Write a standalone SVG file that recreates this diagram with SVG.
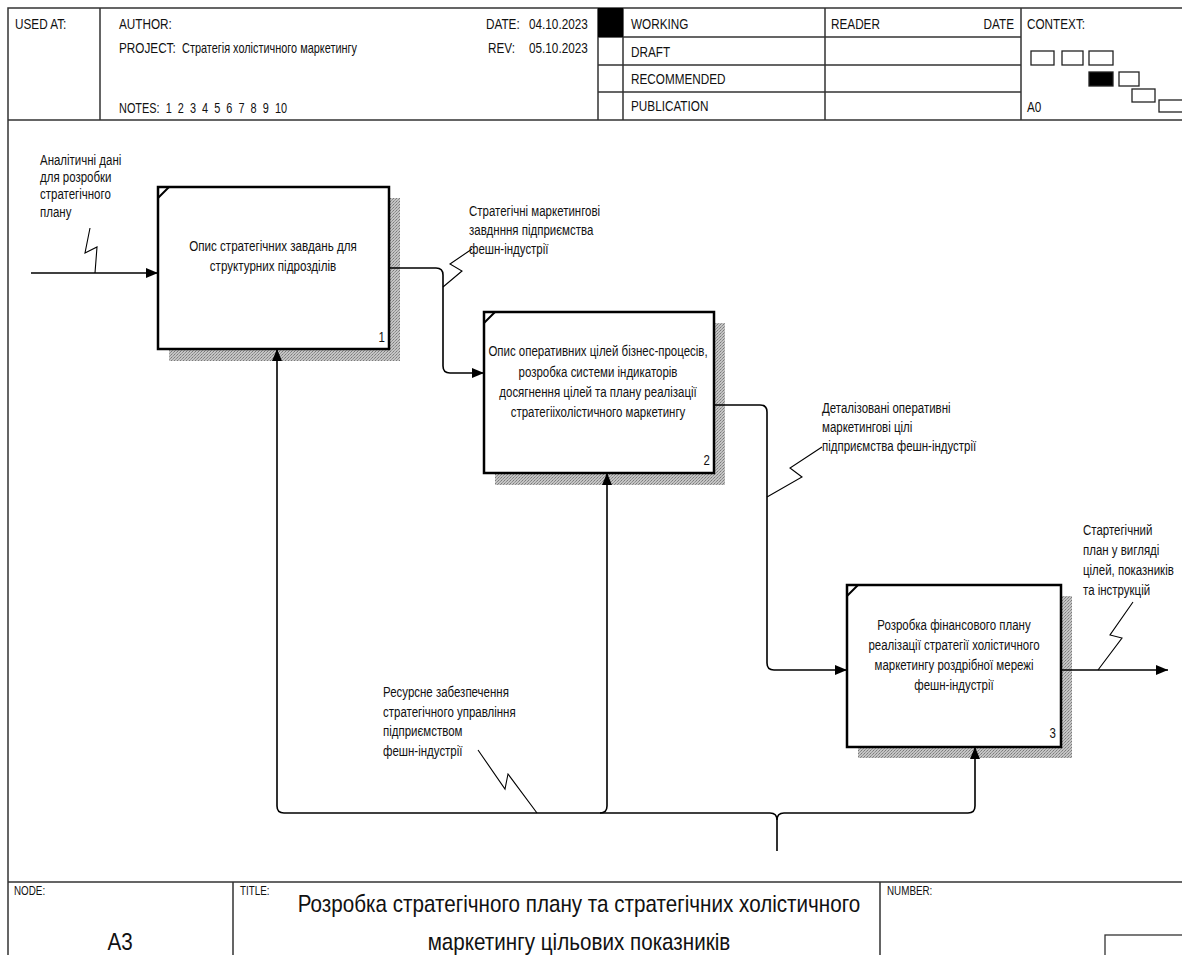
<svg xmlns="http://www.w3.org/2000/svg" width="1182" height="955" viewBox="0 0 1182 955">
  <style>
    text { font-family: "Liberation Sans", Arial, sans-serif; fill: #111; }
    .hdr { font-size: 14px; }
    .small { font-size: 12px; }
    .big { font-size: 24px; }
    .node { font-size: 14px; }
    .lbl { font-size: 14px; }
    .num { font-size: 14px; text-anchor: end; }
    .mid { text-anchor: middle; }
    .frame { stroke: #333; stroke-width: 1.5; fill: none; }
    .box { fill: #fff; stroke: #000; stroke-width: 2.5; }
    .shadow { fill: url(#hatch); stroke: none; }
    .corner { stroke: #000; stroke-width: 2; }
    .arrow { fill: none; stroke: #000; stroke-width: 1.6; marker-end: url(#ah); }
    .squig { fill: none; stroke: #000; stroke-width: 1.1; }
  </style>
  <defs>
    <pattern id="hatch" width="3" height="3" patternUnits="userSpaceOnUse">
      <rect width="3" height="3" fill="#c4c4c4"/>
      <rect width="1" height="1" fill="#7a7a7a"/>
      <rect x="2" y="1" width="1" height="1" fill="#8c8c8c"/>
      <rect x="1" y="2" width="1" height="1" fill="#9a9a9a"/>
    </pattern>
    <marker id="ah" viewBox="0 0 12 10" refX="12" refY="5" markerWidth="12" markerHeight="10" markerUnits="userSpaceOnUse" orient="auto">
      <path d="M0,0 L12,5 L0,10 z" fill="#000"/>
    </marker>
  </defs>

  <rect width="1182" height="955" fill="#fff"/>

  <!-- header block; all text is horizontally condensed to a narrow face -->
  <g id="header">
    <path class="frame" d="M8,955 V8 H1182 M8,120 H1182 M100,8 V120 M598,8 V120 M623,8 V120 M825,8 V120 M1021,8 V120 M598,37 H1021 M598,65 H1021 M598,92 H1021"/>
    <rect x="598" y="8" width="25" height="29" fill="#000"/>
    <text class="hdr" transform="translate(15,29) scale(0.84,1)">USED AT:</text>
    <text class="hdr" transform="translate(119,29) scale(0.84,1)">AUTHOR:</text>
    <text class="hdr" transform="translate(119,53) scale(0.84,1)">PROJECT:</text>
    <text class="hdr" transform="translate(182,53) scale(0.78,1)">Стратегія холістичного маркетингу</text>
    <text class="hdr" transform="translate(119,113) scale(0.78,1)" xml:space="preserve">NOTES:  1  2  3  4  5  6  7  8  9  10</text>
    <text class="hdr" transform="translate(486,29) scale(0.84,1)">DATE:</text>
    <text class="hdr" transform="translate(529,29) scale(0.84,1)">04.10.2023</text>
    <text class="hdr" transform="translate(488,53) scale(0.84,1)">REV:</text>
    <text class="hdr" transform="translate(529,53) scale(0.84,1)">05.10.2023</text>
    <text class="hdr" transform="translate(631,29) scale(0.84,1)">WORKING</text>
    <text class="hdr" transform="translate(631,57) scale(0.84,1)">DRAFT</text>
    <text class="hdr" transform="translate(631,84) scale(0.84,1)">RECOMMENDED</text>
    <text class="hdr" transform="translate(631,111) scale(0.84,1)">PUBLICATION</text>
    <text class="hdr" transform="translate(831,29) scale(0.84,1)">READER</text>
    <text class="hdr" transform="translate(1014,29) scale(0.84,1)" text-anchor="end">DATE</text>
    <text class="hdr" transform="translate(1027,29) scale(0.84,1)">CONTEXT:</text>
    <text class="hdr" transform="translate(1027,112) scale(0.84,1)">A0</text>
    <!-- context map -->
    <g fill="#fff" stroke="#222" stroke-width="1.3">
      <rect x="1031" y="51" width="23" height="14"/>
      <rect x="1062" y="51" width="21" height="14"/>
      <rect x="1089" y="51" width="24" height="14"/>
      <rect x="1089" y="72" width="24" height="14" fill="#000"/>
      <rect x="1119" y="72" width="20" height="14"/>
      <rect x="1132" y="89" width="23" height="13"/>
      <rect x="1159" y="100" width="30" height="12"/>
    </g>
  </g>

  <!-- activity boxes -->
  <g id="node-1">
    <rect class="shadow" x="169" y="198" width="231" height="163"/>
    <rect class="box" x="158" y="187" width="231" height="162"/>
    <line class="corner" x1="158" y1="198" x2="169" y2="187"/>
    <text class="node mid" transform="translate(273,251) scale(0.83,1)">Опис стратегічних завдань для</text>
    <text class="node mid" transform="translate(273,271) scale(0.83,1)">структурних підрозділів</text>
    <text class="num" transform="translate(385,342) scale(0.82,1)">1</text>
  </g>

  <g id="node-2">
    <rect class="shadow" x="495" y="323" width="230" height="162"/>
    <rect class="box" x="484" y="312" width="230" height="161"/>
    <line class="corner" x1="484" y1="323" x2="495" y2="312"/>
    <text class="node mid" transform="translate(598,356) scale(0.82,1)">Опис оперативних цілей бізнес-процесів,</text>
    <text class="node mid" transform="translate(598,377) scale(0.82,1)">розробка системи індикаторів</text>
    <text class="node mid" transform="translate(598,397) scale(0.82,1)">досягнення цілей та плану реалізації</text>
    <text class="node mid" transform="translate(598,417) scale(0.82,1)">стратегііхолістичного маркетингу</text>
    <text class="num" transform="translate(710,465) scale(0.82,1)">2</text>
  </g>

  <g id="node-3">
    <rect class="shadow" x="858" y="596" width="214" height="162"/>
    <rect class="box" x="847" y="585" width="214" height="162"/>
    <line class="corner" x1="847" y1="596" x2="858" y2="585"/>
    <text class="node mid" transform="translate(954,630) scale(0.82,1)">Розробка фінансового плану</text>
    <text class="node mid" transform="translate(954,650) scale(0.82,1)">реалізації стратегії холістичного</text>
    <text class="node mid" transform="translate(954,670) scale(0.82,1)">маркетингу роздрібної мережі</text>
    <text class="node mid" transform="translate(954,690) scale(0.82,1)">фешн-індустрії</text>
    <text class="num" transform="translate(1056,738) scale(0.82,1)">3</text>
  </g>

  <!-- arrows and their labels -->
  <g id="connectors">
    <!-- input -->
    <path class="arrow" d="M31,273 H158"/>
    <path class="squig" d="M90,228 L85,253 L97,247 L95,273"/>
    <text class="lbl" transform="translate(40,165) scale(0.82,1)">Аналітичні дані</text>
    <text class="lbl" transform="translate(40,182) scale(0.82,1)">для розробки</text>
    <text class="lbl" transform="translate(40,199) scale(0.82,1)">стратегічного</text>
    <text class="lbl" transform="translate(40,217) scale(0.82,1)">плану</text>

    <!-- box 1 to box 2 -->
    <path class="arrow" d="M389,268 H436 Q443,268 443,275 V366 Q443,373 450,373 H484"/>
    <path class="squig" d="M472,249 L450,264 L462,271 L443,287"/>
    <text class="lbl" transform="translate(469,216) scale(0.82,1)">Стратегічні маркетингові</text>
    <text class="lbl" transform="translate(469,235) scale(0.82,1)">завднння підприємства</text>
    <text class="lbl" transform="translate(469,254) scale(0.82,1)">фешн-індустрії</text>

    <!-- box 2 to box 3 -->
    <path class="arrow" d="M714,405 H760 Q767,405 767,412 V663 Q767,670 774,670 H847"/>
    <path class="squig" d="M822,447 L790,468 L802,477 L767,497"/>
    <text class="lbl" transform="translate(822,413) scale(0.82,1)">Деталізовані оперативні</text>
    <text class="lbl" transform="translate(822,432) scale(0.82,1)">маркетингові цілі</text>
    <text class="lbl" transform="translate(822,451) scale(0.82,1)">підприємства фешн-індустрії</text>

    <!-- output -->
    <path class="arrow" d="M1061,670 H1168"/>
    <path class="squig" d="M1133,602 L1110,635 L1122,638 L1098,670"/>
    <text class="lbl" transform="translate(1083,535) scale(0.82,1)">Стартегічний</text>
    <text class="lbl" transform="translate(1083,555) scale(0.82,1)">план у вигляді</text>
    <text class="lbl" transform="translate(1083,575) scale(0.82,1)">цілей, показників</text>
    <text class="lbl" transform="translate(1083,595) scale(0.82,1)">та інструкцій</text>

    <!-- shared control -->
    <path class="arrow" d="M777,851 V820 Q777,813 770,813 H284 Q277,813 277,806 V349"/>
    <path class="arrow" d="M777,820 Q777,813 784,813 H968 Q975,813 975,806 V747"/>
    <path class="arrow" d="M600,813 Q607,813 607,806 V473"/>
    <path class="squig" d="M478,750 L505,789 L508,774 L537,813"/>
    <text class="lbl" transform="translate(383,697) scale(0.82,1)">Ресурсне забезпечення</text>
    <text class="lbl" transform="translate(383,717) scale(0.82,1)">стратегічного управління</text>
    <text class="lbl" transform="translate(383,736) scale(0.82,1)">підприємством</text>
    <text class="lbl" transform="translate(383,756) scale(0.82,1)">фешн-індустрії</text>
  </g>

  <!-- title block -->
  <g id="footer">
    <path class="frame" d="M8,882 H1182 M233,882 V955 M880,882 V955"/>
    <rect x="1105" y="935" width="90" height="30" fill="none" stroke="#333" stroke-width="1.3"/>
    <text class="small" transform="translate(14,895) scale(0.82,1)">NODE:</text>
    <text class="big mid" transform="translate(120,950) scale(0.86,1)">A3</text>
    <text class="small" transform="translate(240,895) scale(0.82,1)">TITLE:</text>
    <text class="big mid" transform="translate(579,912) scale(0.86,1)">Розробка стратегічного плану та стратегічних холістичного</text>
    <text class="big mid" transform="translate(579,950) scale(0.86,1)">маркетингу цільових показників</text>
    <text class="small" transform="translate(887,895) scale(0.82,1)">NUMBER:</text>
  </g>
</svg>
